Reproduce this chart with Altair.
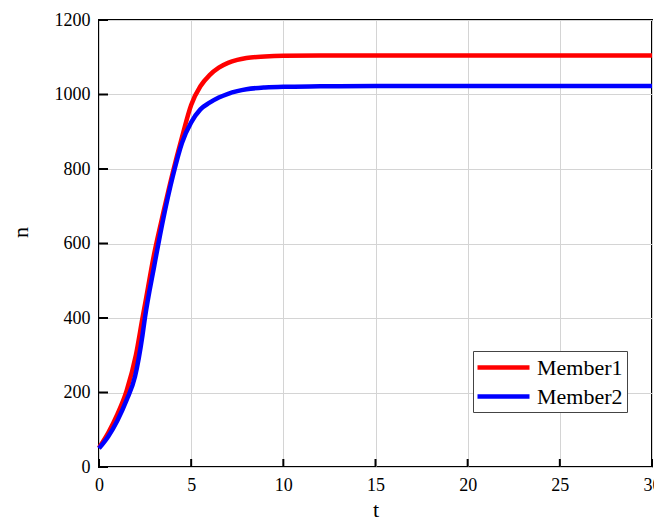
import altair as alt
import pandas as pd

# ---- data ----
t_member1 = [0, 0.5, 1, 1.5, 2, 2.36, 2.5, 3, 3.5, 4, 4.5, 5, 5.5, 6, 6.5, 7, 7.5, 8, 9, 10, 12, 15, 20, 25, 30]
member1 = [52, 92, 142, 205, 300, 400, 438, 574, 685, 790, 885, 972, 1022, 1052, 1072, 1085, 1093, 1098, 1102, 1104, 1105, 1105, 1105, 1105, 1105]
t_member2 = [0, 0.5, 1, 1.5, 1.95, 2.36, 2.49, 3, 3.5, 4, 4.5, 5, 5.5, 6, 6.5, 7, 7.5, 8, 9, 10, 12, 15, 20, 25, 30]
member2 = [50, 82, 125, 180, 242, 354, 400, 541, 670, 780, 870, 925, 960, 978, 992, 1002, 1009, 1014, 1019, 1021, 1022, 1023, 1023, 1023, 1023]
series_names = ["Member1", "Member2"]
series_colors = ["#ff0000", "#0000ff"]
x_ticks = [0, 5, 10, 15, 20, 25, 30]
y_ticks = [0, 200, 400, 600, 800, 1000, 1200]

df = pd.concat([
    pd.DataFrame({"t": t_member1, "n": member1, "series": series_names[0]}),
    pd.DataFrame({"t": t_member2, "n": member2, "series": series_names[1]}),
])
xt = pd.DataFrame({"t": x_ticks})
yt = pd.DataFrame({"n": y_ticks})

W, H = 553, 447
FONT = "Liberation Serif"

xscale = alt.Scale(domain=[0, 30], nice=False, zero=False)
yscale = alt.Scale(domain=[0, 1200], nice=False)
common_axis = dict(labelFont=FONT, labelFontSize=18, labelColor="black",
                   titleFont=FONT, titleFontSize=22, titleFontWeight="normal", titleColor="black",
                   domain=False, ticks=False, labelPadding=9, format="d",
                   gridColor="#d4d4d4", gridWidth=1, labelFlush=False)
xaxis = alt.Axis(values=x_ticks, title="t", titleY=49, titleBaseline="alphabetic", **common_axis)
yaxis = alt.Axis(values=y_ticks, title="n", titleX=-79, titleY=212, titleAngle=-90,
                 titleBaseline="middle", titleAlign="center", **common_axis)

lines = alt.Chart(df).mark_line(strokeWidth=4.5, interpolate="monotone").encode(
    x=alt.X("t:Q", scale=xscale, axis=xaxis),
    y=alt.Y("n:Q", scale=yscale, axis=yaxis),
    color=alt.Color("series:N", scale=alt.Scale(domain=series_names, range=series_colors),
                    legend=alt.Legend(title=None)),
)

xticks = alt.Chart(xt).mark_rule(color="black", strokeWidth=2).encode(
    x=alt.X("t:Q", scale=xscale, axis=xaxis),
    y=alt.value(H - 8),
    y2=alt.value(H),
)
yticks = alt.Chart(yt).mark_rule(color="black", strokeWidth=2).encode(
    y=alt.Y("n:Q", scale=yscale, axis=yaxis),
    x=alt.value(0),
    x2=alt.value(9),
)

chart = alt.layer(lines, xticks, yticks).properties(
    width=W, height=H,
    padding={"left": 91, "top": 12, "right": 2, "bottom": 53},
    autosize=alt.AutoSizeParams(type="none"),
).configure_view(
    stroke="black", strokeWidth=2
).configure_axis(
    labelFont=FONT, titleFont=FONT,
).configure_legend(
    orient="none", legendX=374, legendY=331,
    strokeColor="#444444", fillColor="white", padding=4, cornerRadius=0,
    symbolType="M-1.2,0H4", symbolSize=400, symbolStrokeWidth=4.5,
    labelOffset=35, rowPadding=5,
    labelFont=FONT, labelFontSize=22, labelColor="black",
)

chart.save("out.html", embed_options={"renderer": "svg", "actions": False})
